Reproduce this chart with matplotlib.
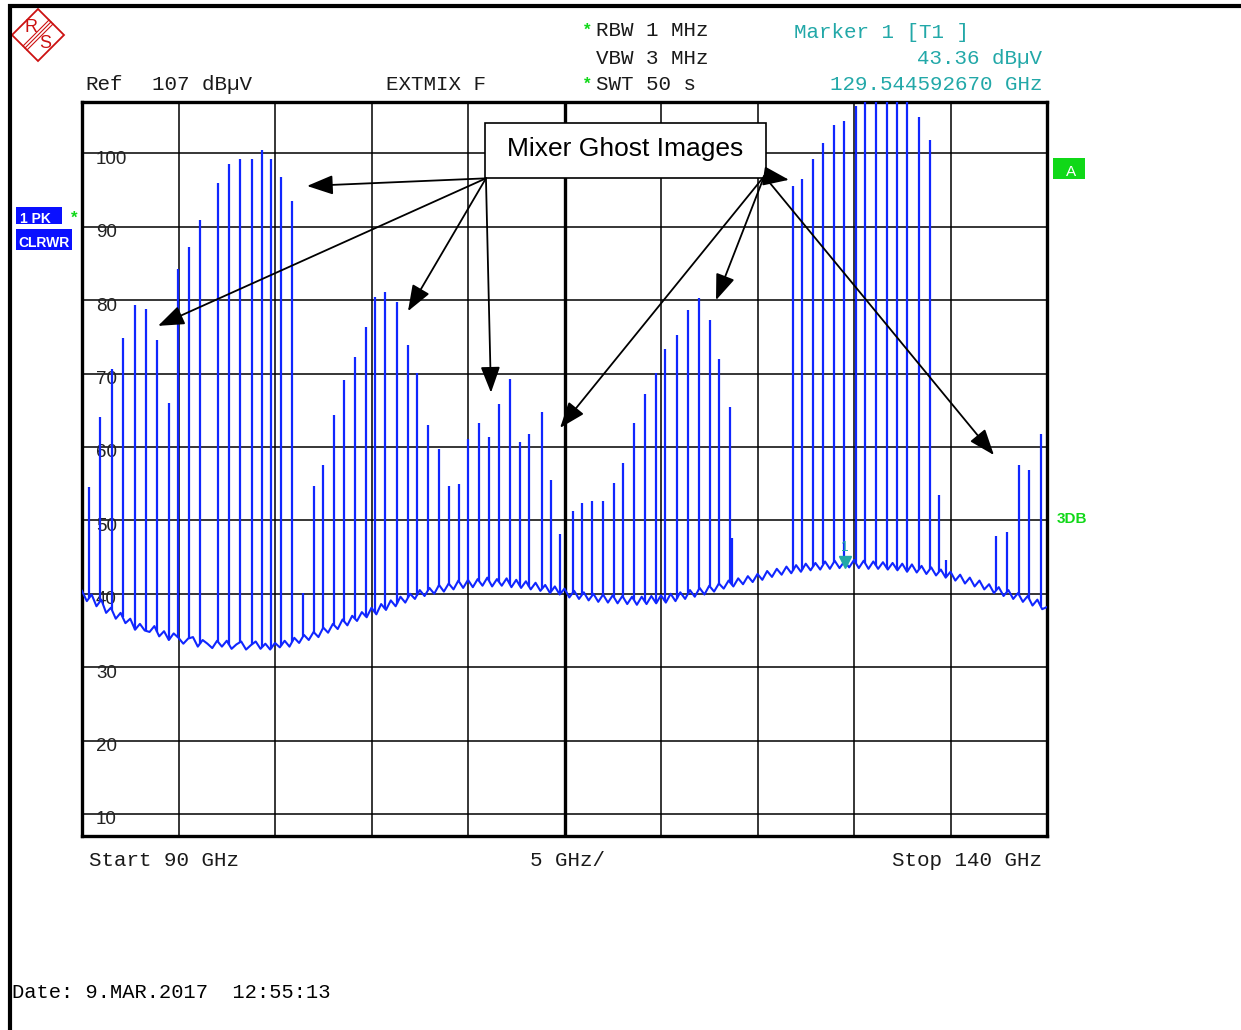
import matplotlib.pyplot as plt
from matplotlib.patches import Rectangle, Polygon
import numpy as np

# sweep settings
START_GHZ = 90.0
STOP_GHZ = 140.0
REF_DBUV = 107.0
BOTTOM_DBUV = 7.0

# noise floor of the trace, one value per 0.25 GHz sweep bin (90 .. 140 GHz)
FLOOR_DBUV = [
    40.4, 39.0, 39.9, 38.3, 39.2, 37.4, 38.1, 36.6, 37.4, 36.0,
    36.6, 35.1, 35.9, 35.0, 34.8, 35.6, 34.2, 34.9, 33.7, 34.6,
    34.0, 33.2, 33.9, 34.1, 32.8, 33.7, 33.2, 32.6, 33.6, 32.8,
    33.6, 32.5, 33.1, 33.5, 32.4, 33.0, 33.5, 32.5, 33.2, 32.4,
    33.3, 32.7, 33.6, 32.8, 34.0, 33.3, 34.4, 33.7, 34.8, 34.1,
    35.4, 34.7, 35.9, 35.2, 36.5, 35.7, 37.0, 36.3, 37.5, 36.8,
    38.1, 37.2, 38.6, 37.8, 39.1, 38.3, 39.6, 38.8, 40.0, 39.3,
    40.5, 39.7, 40.8, 40.0, 41.2, 40.3, 41.4, 40.6, 41.8, 40.8,
    41.9, 40.9, 42.0, 41.1, 42.2, 41.0, 42.0, 41.1, 42.1, 40.9,
    41.9, 40.8, 41.7, 40.6, 41.5, 40.4, 41.2, 40.1, 41.0, 39.9,
    40.7, 39.5, 40.4, 39.3, 40.2, 39.1, 40.0, 38.9, 39.9, 38.8,
    39.8, 38.7, 39.7, 38.6, 39.6, 38.5, 39.6, 38.6, 39.7, 38.7,
    39.8, 38.8, 40.0, 39.0, 40.2, 39.3, 40.5, 39.6, 40.8, 39.9,
    41.1, 40.3, 41.4, 40.7, 41.8, 41.0, 42.1, 41.3, 42.4, 41.6,
    42.7, 41.9, 43.1, 42.3, 43.4, 42.6, 43.7, 42.8, 43.9, 43.0,
    44.1, 43.2, 44.2, 43.3, 44.4, 43.4, 44.5, 43.5, 44.4, 43.6,
    44.6, 43.5, 44.5, 43.4, 44.4, 43.4, 44.3, 43.3, 44.2, 43.2,
    44.1, 43.0, 44.0, 42.9, 43.8, 42.7, 43.6, 42.5, 43.3, 42.2,
    43.0, 41.8, 42.6, 41.4, 42.2, 41.0, 41.8, 40.6, 41.3, 40.1,
    40.9, 39.7, 40.5, 39.3, 40.1, 38.9, 39.7, 38.4, 39.2, 37.9,
    38.2,
]

# spurious lines (frequency in GHz, peak in dBuV)
SPIKE_GHZ = [
    90.36, 90.93, 91.55, 92.11, 92.76, 93.32, 93.89, 94.51, 94.97, 95.54,
    96.11, 97.05, 97.62, 98.19, 98.81, 99.33, 99.79, 100.31, 100.88, 101.45,
    102.02, 102.49, 103.06, 103.59, 104.16, 104.73, 105.20, 105.70, 106.31, 106.89,
    107.34, 107.93, 108.48, 109.03, 109.52, 110.02, 110.57, 111.10, 111.61, 112.16,
    112.69, 113.18, 113.83, 114.32, 114.78, 115.42, 115.91, 116.44, 117.01, 117.56,
    118.05, 118.60, 119.17, 119.74, 120.21, 120.81, 121.38, 121.95, 122.52, 123.01,
    123.58, 123.66, 126.82, 127.31, 127.86, 128.41, 128.96, 129.47, 130.10, 130.58,
    131.14, 131.69, 132.23, 132.73, 133.37, 133.94, 134.40, 134.77, 137.36, 137.91,
    138.53, 139.08, 139.67,
]
SPIKE_DBUV = [
    54.5, 64.1, 70.6, 74.8, 79.4, 78.8, 74.6, 66.0, 84.2, 87.2,
    90.9, 96.0, 98.5, 99.3, 99.3, 100.4, 99.3, 96.8, 93.5, 40.1,
    54.7, 57.6, 64.3, 69.1, 72.3, 76.4, 80.5, 81.1, 79.8, 73.9,
    70.1, 63.0, 59.7, 54.7, 54.9, 61.1, 63.2, 61.4, 65.8, 69.3,
    60.7, 61.8, 64.7, 55.5, 48.1, 51.3, 52.3, 52.6, 52.7, 55.1,
    57.8, 63.2, 67.2, 70.1, 73.3, 75.2, 78.6, 80.3, 77.3, 72.0,
    65.5, 47.6, 95.6, 96.5, 99.2, 101.4, 103.9, 104.4, 106.5, 107.5,
    107.5, 107.5, 107.5, 107.5, 105.0, 101.8, 53.4, 44.6, 47.9, 48.4,
    57.6, 56.8, 61.8,
]

Y_LABELS = [100, 90, 80, 70, 60, 50, 40, 30, 20, 10]

MARKER_GHZ = 129.544592670
MARKER_DBUV = 43.36

# annotation: box and arrows (GHz, dBuV)
BOX_TEXT = "Mixer Ghost Images"
BOX_LEFT_GHZ, BOX_RIGHT_GHZ = 110.88, 125.43
BOX_BOTTOM_DBUV, BOX_TOP_DBUV = 96.69, 104.18
ARROW_FROM = [(110.93, 96.6)] * 4 + [(125.35, 96.9)] * 4
ARROW_TIPS = [
    (101.66, 95.56), (93.94, 76.5), (106.89, 78.5), (111.19, 67.4),
    (126.63, 96.4), (114.77, 62.6), (122.85, 80.0), (137.25, 58.9),
]

TRACE_BLUE = "#1026ff"
TEAL = "#22a8a8"
GREEN = "#10d818"
MONO = "Liberation Mono"
SANS = "Liberation Sans"

W, H = 1241, 1030
fig = plt.figure(figsize=(W / 100, H / 100), dpi=100)

# pixel overlay for the screen decorations
ov = fig.add_axes([0, 0, 1, 1], zorder=0)
ov.set_xlim(0, W)
ov.set_ylim(H, 0)
ov.axis("off")

ov.plot([10, 10], [4, H], color="black", lw=3, solid_capstyle="butt")
ov.plot([8, W], [5.5, 5.5], color="black", lw=3, solid_capstyle="butt")

# R&S logo
red = "#cc1111"
ov.add_patch(Polygon([(38, 9), (64, 35), (38, 61), (12, 35)], closed=True,
                     fill=False, ec=red, lw=1.3))
for off in (-2.0, 0, 2.0):
    ov.plot([51 + off, 25 + off], [22 + off, 48 + off], color=red, lw=0.8)
ov.text(31, 27, "R", color=red, fontsize=13, family=SANS, ha="center", va="center")
ov.text(45, 43, "S", color=red, fontsize=13, family=SANS, ha="center", va="center")

hdr = dict(family=MONO, fontsize=15, color="#1a1a1a", va="center")
ov.text(85, 85, "Ref", ha="left", **hdr)
ov.text(152, 85, "107 dB\u00b5V", ha="left", **hdr)
ov.text(386, 85, "EXTMIX F", ha="left", **hdr)
ov.text(596, 31, "RBW 1 MHz", ha="left", **hdr)
ov.text(596, 59, "VBW 3 MHz", ha="left", **hdr)
ov.text(596, 85, "SWT 50 s", ha="left", **hdr)
for yy in (31, 85):
    ov.text(587, yy - 1, "*", color=GREEN, fontsize=12, family=SANS,
            fontweight="bold", ha="center", va="center")

tel = dict(family=MONO, fontsize=15, color=TEAL, va="center")
ov.text(794, 33, "Marker 1 [T1 ]", ha="left", **tel)
ov.text(1042, 59, "43.36 dB\u00b5V", ha="right", **tel)
ov.text(1042, 85, "129.544592670 GHz", ha="right", **tel)

ov.text(89, 860, "Start 90 GHz", ha="left", **hdr)
ov.text(530, 860, "5 GHz/", ha="left", **hdr)
ov.text(1042, 860, "Stop 140 GHz", ha="right", **hdr)
ov.text(12, 993, "Date: 9.MAR.2017  12:55:13", ha="left", family=MONO,
        fontsize=14.7, color="black", va="center")

# trace labels on the left, display line labels on the right
ov.add_patch(Rectangle((16, 207), 46, 17, fc="#0a10ff", ec="none"))
ov.add_patch(Rectangle((16, 229), 56, 21, fc="#0a10ff", ec="none"))
ov.text(20, 219, "1 PK", color="white", fontsize=10, family=SANS,
        fontweight="bold", ha="left", va="center")
ov.text(18, 243, "CLRWR", color="white", fontsize=10, family=SANS,
        fontweight="bold", ha="left", va="center")
ov.text(74, 218, "*", color=GREEN, fontsize=12, family=SANS,
        fontweight="bold", ha="center", va="center")
ov.add_patch(Rectangle((1053, 158), 32, 21, fc=GREEN, ec="none"))
ov.text(1071, 172, "A", color="white", fontsize=11, family=SANS,
        ha="center", va="center")
ov.text(1057, 519, "3DB", color=GREEN, fontsize=11, family=SANS,
        fontweight="bold", ha="left", va="center")

# measurement screen
ax = fig.add_axes([82 / W, (H - 836) / H, 965 / W, 734 / H], zorder=1)
ax.set_xlim(START_GHZ, STOP_GHZ)
ax.set_ylim(BOTTOM_DBUV, REF_DBUV)
ax.set_xticks(np.arange(START_GHZ, STOP_GHZ + 0.1, 5))
ax.set_yticks(Y_LABELS)
ax.tick_params(length=0, labelbottom=False, labelleft=False)
ax.grid(True, color="black", lw=1.1)
ax.axvline((START_GHZ + STOP_GHZ) / 2, color="black", lw=2.4)
for sp in ax.spines.values():
    sp.set_linewidth(2.4)

for v in Y_LABELS:
    ax.text(90.72, v - 0.8, str(v), family=SANS, fontsize=13.5,
            color="#222222", ha="left", va="center")

freq = np.linspace(START_GHZ, STOP_GHZ, len(FLOOR_DBUV))
ax.plot(freq, FLOOR_DBUV, color=TRACE_BLUE, lw=1.5, zorder=3)
spike_base = np.interp(SPIKE_GHZ, freq, FLOOR_DBUV)
ax.vlines(SPIKE_GHZ, spike_base, SPIKE_DBUV, color=TRACE_BLUE, lw=1.6, zorder=3)

ax.plot(MARKER_GHZ, MARKER_DBUV + 1.0, marker="v", ms=9, color=TEAL, zorder=4)
ax.text(MARKER_GHZ, MARKER_DBUV + 3.0, "1", color=TEAL, fontsize=10,
        family=SANS, ha="center", va="center", zorder=4)

ax.add_patch(Rectangle((BOX_LEFT_GHZ, BOX_BOTTOM_DBUV),
                       BOX_RIGHT_GHZ - BOX_LEFT_GHZ, BOX_TOP_DBUV - BOX_BOTTOM_DBUV,
                       fc="white", ec="black", lw=1.2, zorder=5))
ax.text((BOX_LEFT_GHZ + BOX_RIGHT_GHZ) / 2, (BOX_BOTTOM_DBUV + BOX_TOP_DBUV) / 2 + 0.1,
        BOX_TEXT, family=SANS, fontsize=19, ha="center", va="center", zorder=6)

for start, tip in zip(ARROW_FROM, ARROW_TIPS):
    ax.annotate("", xy=tip, xytext=start, zorder=6,
                arrowprops=dict(arrowstyle="-|>,head_length=0.8,head_width=0.3",
                                color="black", lw=1.3, mutation_scale=20,
                                shrinkA=0, shrinkB=0))

fig.savefig("out.png", dpi=100)
